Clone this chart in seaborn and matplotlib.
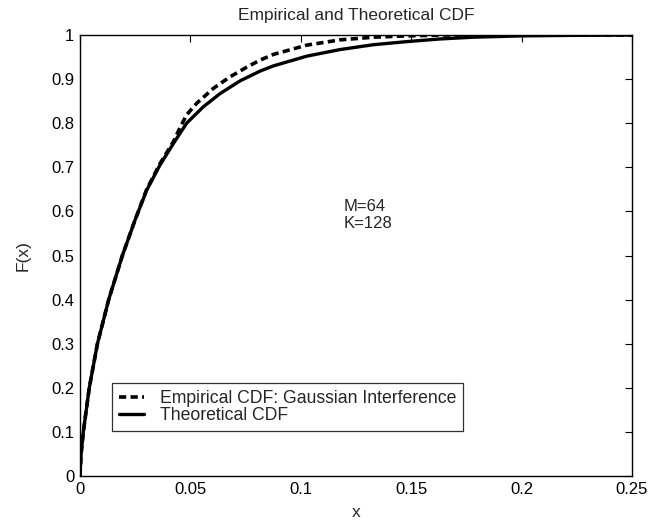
import numpy as np
import pandas as pd
import matplotlib
matplotlib.use("Agg")
import matplotlib.pyplot as plt
import seaborn as sns

# Theoretical CDF samples
x_theory = [0.0, 0.0005, 0.0015, 0.0042, 0.0079, 0.0130, 0.0192, 0.0249,
            0.0302, 0.0362, 0.0423, 0.0483, 0.0558, 0.0634, 0.0725, 0.0815,
            0.0876, 0.1027, 0.1178, 0.1329, 0.148, 0.163, 0.178, 0.200,
            0.220, 0.250]
f_theory = [0.0, 0.05, 0.10, 0.20, 0.30, 0.40, 0.50, 0.58,
            0.648, 0.705, 0.754, 0.800, 0.837, 0.867, 0.896, 0.918,
            0.930, 0.952, 0.967, 0.978, 0.985, 0.991, 0.995, 0.998,
            0.999, 1.0]

# Empirical CDF samples (Gaussian interference)
x_emp = [0.0, 0.0005, 0.0015, 0.0042, 0.0079, 0.0130, 0.0192, 0.0249,
         0.0302, 0.0362, 0.0423, 0.0453, 0.0483, 0.0528, 0.0604, 0.0679,
         0.0755, 0.0815, 0.0876, 0.1027, 0.1178, 0.1329, 0.148, 0.165,
         0.250]
f_emp = [0.0, 0.05, 0.10, 0.20, 0.30, 0.40, 0.50, 0.58,
         0.65, 0.708, 0.758, 0.79, 0.819, 0.845, 0.879, 0.905,
         0.927, 0.943, 0.956, 0.977, 0.989, 0.995, 0.998, 1.0,
         1.0]

x_ticks = [0, 0.05, 0.1, 0.15, 0.2, 0.25]
x_tick_labels = ["0", "0.05", "0.1", "0.15", "0.2", "0.25"]
y_ticks = [0, 0.1, 0.2, 0.3, 0.4, 0.5, 0.6, 0.7, 0.8, 0.9, 1.0]
y_tick_labels = ["0", "0.1", "0.2", "0.3", "0.4", "0.5", "0.6", "0.7", "0.8", "0.9", "1"]

sns.set_style("white")
plt.rcParams["font.family"] = ["Liberation Sans", "DejaVu Sans"]

emp_df = pd.DataFrame({"x": x_emp, "F": f_emp})
th_df = pd.DataFrame({"x": x_theory, "F": f_theory})

fig = plt.figure(figsize=(6.55, 5.22), dpi=100)
ax = fig.add_axes([80 / 655, 1 - 476 / 522, 552 / 655, 441 / 522])

sns.lineplot(data=emp_df, x="x", y="F", ax=ax, color="black", lw=2.6,
             linestyle=(0, (2.0, 1.2)), label="Empirical CDF: Gaussian Interference",
             estimator=None, sort=False)
sns.lineplot(data=th_df, x="x", y="F", ax=ax, color="black", lw=2.4,
             label="Theoretical CDF", estimator=None, sort=False)
for ln in ax.get_lines():
    ln.set_solid_joinstyle("round")

ax.set_xlim(0, 0.25)
ax.set_ylim(0, 1)
ax.set_xticks(x_ticks)
ax.set_xticklabels(x_tick_labels)
ax.set_yticks(y_ticks)
ax.set_yticklabels(y_tick_labels)
ax.tick_params(direction="in", length=5, width=0.8, top=True, right=True,
               labelsize=12, colors="black", pad=4)
for s in ax.spines.values():
    s.set_visible(True)
    s.set_color("black")
    s.set_linewidth(1.0)

ax.set_title("Empirical and Theoretical CDF", fontsize=12.5, pad=11)
ax.set_xlabel("x", fontsize=12.5, labelpad=6)
ax.set_ylabel("F(x)", fontsize=12.5, labelpad=15)

ax.text(0.1195, 0.628, "M=64\nK=128", fontsize=12, va="top", ha="left",
        linespacing=1.15)

leg = ax.legend(loc="lower left", bbox_to_anchor=(0.058, 0.102),
                borderaxespad=0, frameon=True, fancybox=False, fontsize=12.7,
                handlelength=1.4, handletextpad=0.9, borderpad=0.4,
                labelspacing=0.0)
leg.get_frame().set_edgecolor("black")
leg.get_frame().set_linewidth(0.9)

fig.savefig("out.png", dpi=100, facecolor="white")
